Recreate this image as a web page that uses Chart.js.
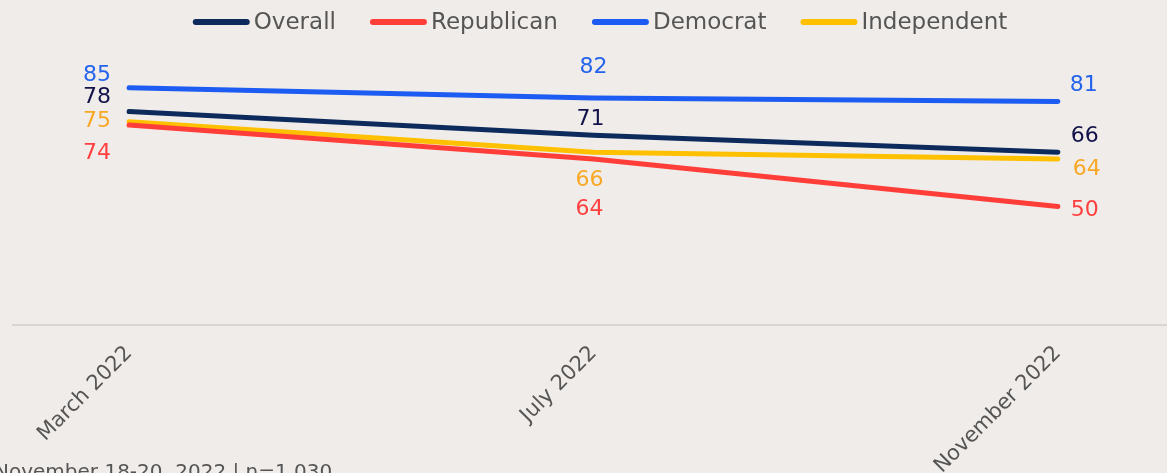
<!DOCTYPE html>
<html>
<head>
<meta charset="utf-8">
<script src="https://cdn.jsdelivr.net/npm/chart.js@4.4.1/dist/chart.umd.min.js"></script>
<style>
  html, body { margin: 0; padding: 0; background: #f0ece9; overflow: hidden; }
  #wrap { position: relative; width: 1167px; height: 473px; }
  #note {
    position: absolute; left: -6px; top: 461px;
    font: 20px "DejaVu Sans", sans-serif; line-height: 20px;
    color: #555; white-space: nowrap;
  }
</style>
</head>
<body>
<div id="wrap">
  <canvas id="chart"></canvas>
  <div id="note">November 18-20, 2022 | n=1,030</div>
</div>
<script>
"use strict";

const MONTHS = ["March 2022", "July 2022", "November 2022"];
const SERIES_NAMES = ["Overall", "Republican", "Democrat", "Independent"];
const OVERALL = [78, 71, 66];
const REPUBLICAN = [74, 64, 50];
const DEMOCRAT = [85, 82, 81];
const INDEPENDENT = [75, 66, 64];

const LINE_COLORS = ["#0c2b5c", "#ff3e3a", "#1d5cf2", "#ffc000"];
const LABEL_COLORS = ["#12124a", "#ff4040", "#2463eb", "#f9a825"];
const FONT = "'DejaVu Sans', sans-serif";

// label offsets from each point: [dx, dy to the digit centre]
const LABEL_OFFSETS = [
  [[-32, -16.6], [-3, -18.6], [27, -18]],
  [[-32, 25.6], [-4, 48.5], [27, 1.1]],
  [[-32, -14.5], [0, -32.7], [26, -18.1]],
  [[-32, -2.5], [-4, 25.3], [29, 8.5]],
];

const toPoints = (vals) => vals.map((v, i) => ({ x: i, y: v }));

// value labels next to each point
const valueLabels = {
  id: "valueLabels",
  afterDatasetsDraw(chart) {
    const ctx = chart.ctx;
    ctx.save();
    ctx.font = `22px ${FONT}`;
    ctx.textAlign = "center";
    ctx.textBaseline = "alphabetic";
    chart.data.datasets.forEach((ds, i) => {
      const meta = chart.getDatasetMeta(i);
      meta.data.forEach((pt, j) => {
        const [dx, dy] = LABEL_OFFSETS[i][j];
        ctx.fillStyle = LABEL_COLORS[i];
        ctx.fillText(String(ds.data[j].y), pt.x + dx, pt.y + dy + 8);
      });
    });
    ctx.restore();
  },
};

// legend row across the top: thick rounded line + name
const topLegend = {
  id: "topLegend",
  afterDraw(chart) {
    const ctx = chart.ctx;
    ctx.save();
    ctx.font = `23px ${FONT}`;
    const mark = 57, gap = 4, space = 34;
    const items = chart.data.datasets.map((d) => ({
      label: d.label, color: d.borderColor, w: ctx.measureText(d.label).width,
    }));
    const total = items.reduce((s, it) => s + mark + gap + it.w, 0) + space * (items.length - 1);
    let x = 600 - total / 2;
    const y = 22;
    ctx.lineWidth = 6;
    ctx.lineCap = "round";
    ctx.textBaseline = "middle";
    ctx.textAlign = "left";
    for (const it of items) {
      ctx.strokeStyle = it.color;
      ctx.beginPath();
      ctx.moveTo(x + 3, y);
      ctx.lineTo(x + mark - 3, y);
      ctx.stroke();
      ctx.fillStyle = "#555";
      ctx.fillText(it.label, x + mark + gap, y + 1);
      x += mark + gap + it.w + space;
    }
    ctx.restore();
  },
};

const datasets = [OVERALL, REPUBLICAN, DEMOCRAT, INDEPENDENT].map((vals, i) => ({
  label: SERIES_NAMES[i],
  data: toPoints(vals),
  borderColor: LINE_COLORS[i],
  backgroundColor: LINE_COLORS[i],
  borderWidth: 5,
  borderCapStyle: "round",
  pointRadius: 0,
  tension: 0,
}));

new Chart(document.getElementById("chart"), {
  type: "line",
  data: { datasets },
  plugins: [valueLabels, topLegend],
  options: {
    responsive: true,
    maintainAspectRatio: false,
    animation: false,
    layout: { padding: { left: 13, right: 0, top: 37, bottom: 0 } },
    plugins: { legend: { display: false }, tooltip: { enabled: false } },
    scales: {
      x: {
        type: "linear",
        min: -0.25,
        max: 2.235,
        afterBuildTicks: (axis) => { axis.ticks = MONTHS.map((_, i) => ({ value: i })); },
        afterFit: (axis) => { axis.height = 148; },
        grid: { display: false, drawTicks: false },
        border: { display: true, color: "#d9d5d2", width: 2 },
        ticks: {
          autoSkip: false,
          minRotation: 45,
          maxRotation: 45,
          padding: 16,
          color: "#555",
          font: { family: FONT, size: 21 },
          callback: (v) => MONTHS[v] ?? "",
        },
      },
      y: { display: false, min: 15, max: 100 },
    },
  },
});
</script>
</body>
</html>
